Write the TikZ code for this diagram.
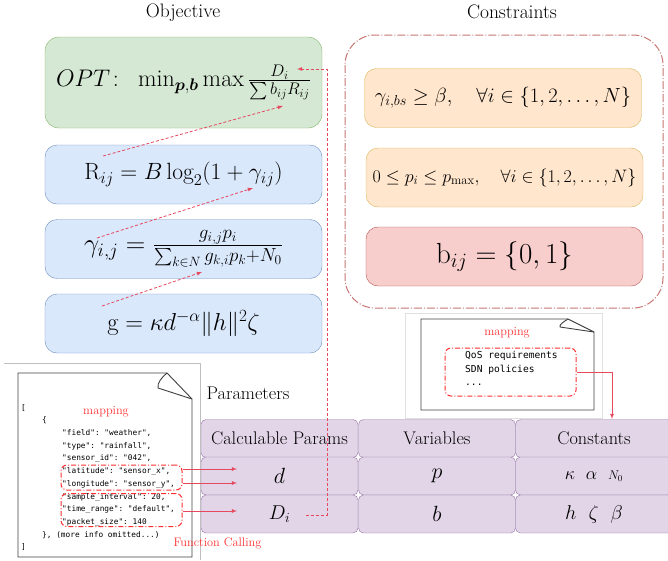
\RequirePackage{fix-cm}
\documentclass[tikz,border=0pt]{standalone}
\usepackage{amsmath}
\usepackage{bm}
\usepackage{fontspec}
\setmonofont{DejaVu Sans Mono}

\definecolor{optfill}{HTML}{D5E8D4}
\definecolor{optline}{HTML}{82B366}
\definecolor{eqfill}{HTML}{DAE8FC}
\definecolor{eqline}{HTML}{6C8EBF}
\definecolor{consfill}{HTML}{FFE6CC}
\definecolor{consline}{HTML}{D6B656}
\definecolor{binfill}{HTML}{F8CECC}
\definecolor{binline}{HTML}{B85450}
\definecolor{parfill}{HTML}{E1D5E7}
\definecolor{parline}{HTML}{9673A6}
\definecolor{linkred}{HTML}{E6485E}
\definecolor{mapred}{HTML}{FF3030}

\tikzset{
  heading/.style={font=\fontsize{19.5}{22}\selectfont},
  optbox/.style={draw=optline, fill=optfill, rounded corners=14pt, minimum width=277pt, minimum height=91pt},
  eqbox/.style={draw=eqline, fill=eqfill, rounded corners=12pt, minimum width=277pt, minimum height=59pt},
  consbox/.style={draw=consline, fill=consfill, rounded corners=12pt, minimum width=277pt, minimum height=59pt},
  binbox/.style={draw=binline, fill=binfill, rounded corners=12pt, minimum width=277pt, minimum height=59pt},
  cellbox/.style={draw=parline, fill=parfill, rounded corners=5pt, minimum width=157pt, minimum height=38pt},
  mapbox/.style={draw=mapred, line width=1pt, dash pattern=on 5pt off 2pt on 1pt off 2pt, rounded corners=6pt},
  maplabel/.style={text=mapred, font=\fontsize{12.3}{14}\selectfont},
  maparrow/.style={draw=linkred, line width=0.8pt, -latex},
  linkarrow/.style={draw=linkred, line width=0.8pt, dash pattern=on 3pt off 2pt, -latex},
  docline/.style={draw=black!75, line width=0.9pt}
}

\begin{document}
\begin{tikzpicture}[x=1pt, y=-1pt]
  \useasboundingbox (0,0) rectangle (668,560);

  % Objective
  \node[heading] (objtitle) at (183,13) {Objective};
  \node[optbox] (opt) at (183.5,82.5)
    {\fontsize{24}{28}\selectfont $OPT\colon\ \min_{\bm{p},\bm{b}}\max\frac{D_i}{\sum b_{ij}R_{ij}}$};
  \node[eqbox] (rate) at (183.5,174.5)
    {\fontsize{23.5}{27}\selectfont $\mathrm{R}_{ij}=B\log_2(1+\gamma_{ij})$};
  \node[eqbox] (sinr) at (183.5,249)
    {\fontsize{27}{31}\selectfont $\gamma_{i,j}=\frac{g_{i,j}p_i}{\sum_{k\in N}g_{k,i}p_k+N_0}$};
  \node[eqbox] (gain) at (183.5,323.5)
    {\fontsize{24.5}{28}\selectfont $\mathrm{g}=\kappa d^{-\alpha}\|h\|^2\zeta$};

  % Constraints
  \node[heading] (constitle) at (512,12) {Constraints};
  \draw[draw=binline!80, line width=1pt, dash pattern=on 8pt off 2pt on 1pt off 2pt, rounded corners=30pt]
    (345,35) rectangle (663,308);
  \node[consbox] (snrcons) at (503,98)
    {\fontsize{20.5}{24}\selectfont $\gamma_{i,bs}\geq\beta,\quad\forall i\in\{1,2,\ldots,N\}$};
  \node[consbox] (powcons) at (504.5,177.5)
    {\fontsize{18}{22}\selectfont $0\leq p_i\leq p_{\max},\quad\forall i\in\{1,2,\ldots,N\}$};
  \node[binbox] (bincons) at (504.5,256.5)
    {\fontsize{29}{32}\selectfont $\mathrm{b}_{ij}=\{0,1\}$};

  % links between the formulas
  \coordinate (rateout) at (103,156);
  \coordinate (optR) at (283,106);
  \coordinate (sinrout) at (97,238);
  \coordinate (rategam) at (253,188);
  \coordinate (gainout) at (102,306);
  \coordinate (sinrden) at (202,272);
  \draw[linkarrow] (rateout) -- (optR);
  \draw[linkarrow] (sinrout) -- (rategam);
  \draw[linkarrow] (gainout) -- (sinrden);

  % QoS document
  \draw[black!12] (405,313) rectangle (602,418);
  \draw[docline] (568,319) -- (421,319) -- (421,410) -- (594,410) -- (594,332) -- cycle;
  \draw[docline] (568,319) .. controls (563,322) and (559,325) .. (560,327) -- (594,332);
  \node[maplabel] (qosmap) at (507,333) {mapping};
  \node[mapbox, minimum width=131pt, minimum height=48pt] (qosbox) at (510.5,372) {};
  \node[anchor=north west, align=left, inner sep=0pt, font=\ttfamily\fontsize{9.6}{13.5}\selectfont]
    (qostext) at (465,351) {QoS requirements\\SDN policies\\...};

  % Parameters
  \node[font=\fontsize{18.3}{22}\selectfont] (partitle) at (248,393) {Parameters};
  \node[cellbox] (calc) at (279.5,438.5) {\fontsize{18.3}{22}\selectfont Calculable Params};
  \node[cellbox] (vars) at (437,438.5) {\fontsize{18.3}{22}\selectfont Variables};
  \node[cellbox] (consts) at (594,438.5) {\fontsize{18.3}{22}\selectfont Constants};
  \node[cellbox] (dist) at (279.5,476) {\fontsize{22}{26}\selectfont $d$};
  \node[cellbox] (pow) at (437,476) {\fontsize{22}{26}\selectfont $p$};
  \node[cellbox] (kan) at (594,476) {\fontsize{18}{22}\selectfont $\kappa\ \ \alpha\ \ {\scriptstyle N_0}$};
  \node[cellbox] (data) at (279.5,514) {\fontsize{20}{24}\selectfont $D_i$};
  \node[cellbox] (assoc) at (437,514) {\fontsize{22}{26}\selectfont $b$};
  \node[cellbox] (hzb) at (594,514) {\fontsize{20}{24}\selectfont $h\ \ \zeta\ \ \beta$};

  \coordinate (constin) at (612,419);
  \draw[maparrow] (qosbox.east) -| (constin);

  % sensor document
  \draw[black!25] (4,363) -- (200,363) -- (200,560);
  \draw[docline] (167,373) -- (18,373) -- (18,557) -- (192,557) -- (192,399) -- cycle;
  \draw[docline] (167,373) .. controls (162,377) and (157,383) .. (158,388) -- (192,399);
  \node[maplabel] (jsonmap) at (106,412) {mapping};
  \node[anchor=north west, align=left, inner sep=0pt, font=\ttfamily\fontsize{7.8}{12.7}\selectfont]
    (json) at (21,404) {[\\
    \hspace*{21pt}\{\\
    \hspace*{41pt}"field": "weather",\\
    \hspace*{41pt}"type": "rainfall",\\
    \hspace*{41pt}"sensor\_id": "042",\\
    \hspace*{41pt}"latitude": "sensor\_x",\\
    \hspace*{41pt}"longitude": "sensor\_y",\\
    \hspace*{41pt}"sample\_interval": 20,\\
    \hspace*{41pt}"time\_range": "default",\\
    \hspace*{41pt}"packet\_size": 140\\
    \hspace*{21pt}\}, (more info omitted...)\\
    ]};
  \node[mapbox, minimum width=121pt, minimum height=25pt] (geobox) at (121.5,477.5) {};
  \node[mapbox, minimum width=121pt, minimum height=33pt] (timebox) at (121.5,510) {};
  \node[maplabel, anchor=west] (fcall) at (170,543) {Function Calling};

  % mapping into the table
  \coordinate (latin) at (237,469);
  \coordinate (lonin) at (237,483);
  \coordinate (datain) at (237,511);
  \draw[maparrow] (geobox.east |- latin) -- (latin);
  \draw[maparrow] (geobox.east |- lonin) -- (lonin);
  \draw[maparrow] (timebox.east |- datain) -- (datain);

  % D_i back to the objective
  \coordinate (dataout) at (306,515);
  \coordinate (optD) at (297,69);
  \draw[linkarrow] (dataout) -- (327,515) |- (optD);
\end{tikzpicture}
\end{document}
